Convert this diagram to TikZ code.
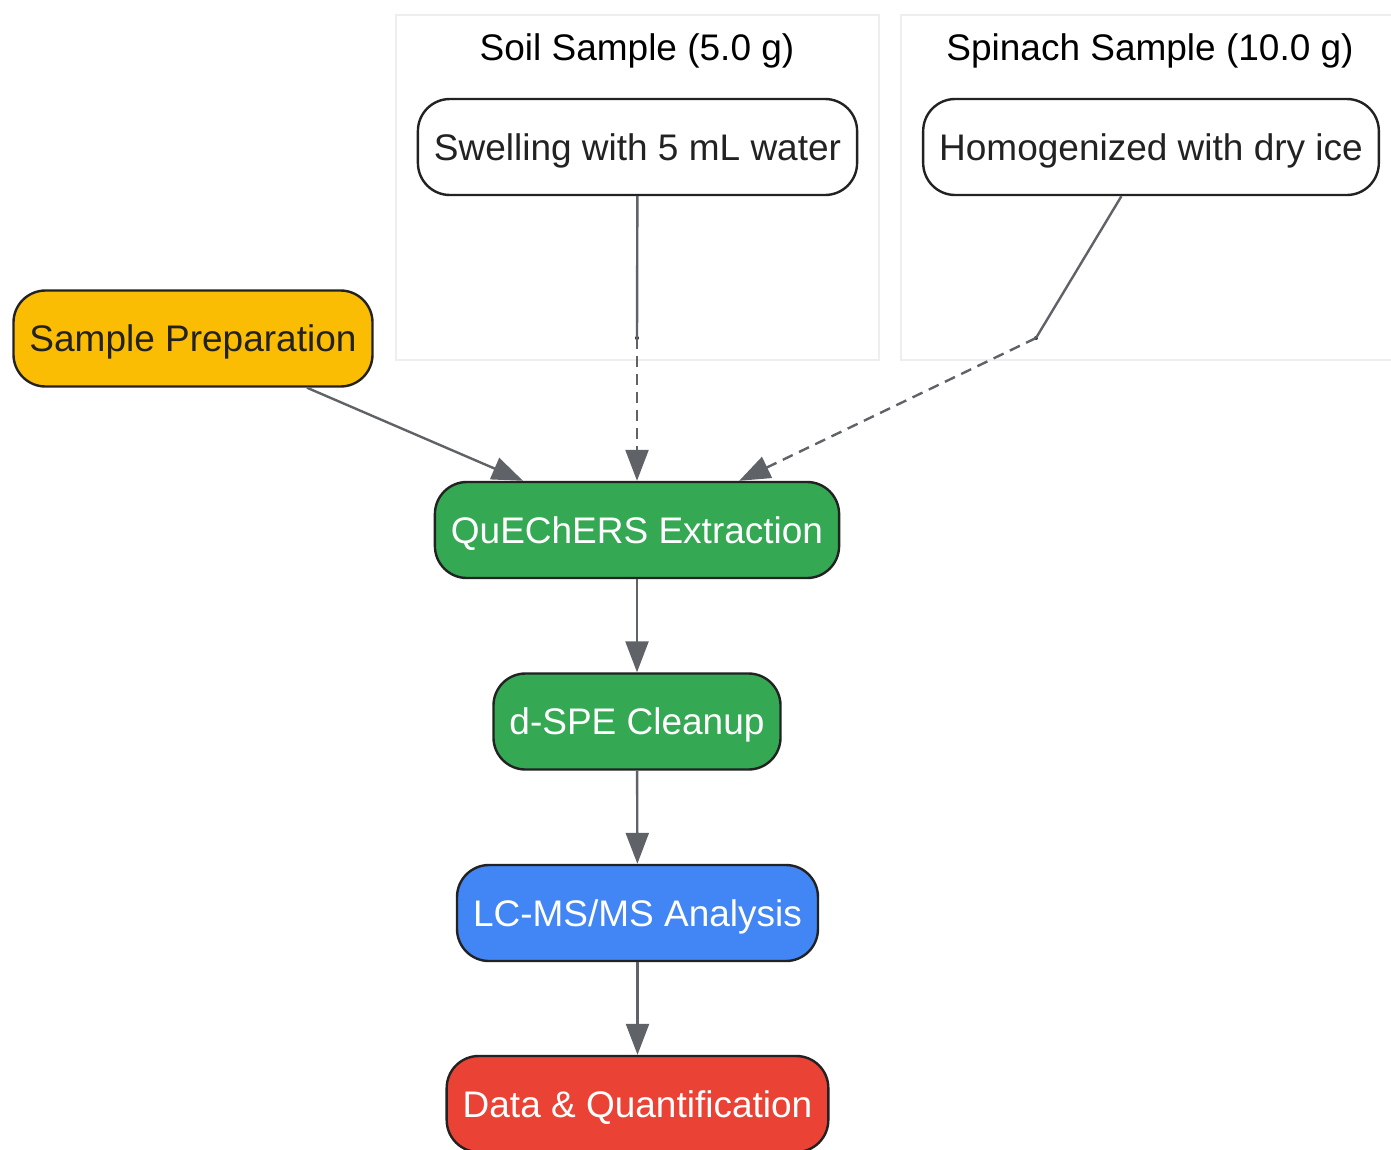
\documentclass[tikz,border=0pt]{standalone}
\usepackage{fontspec}
\setmainfont{Liberation Sans}
\usetikzlibrary{arrows.meta}

\begin{document}
\begin{tikzpicture}[x=1pt, y=-1pt]

    % Colors of the workflow stages
    \definecolor{prepcol}{RGB}{251,188,4}
    \definecolor{extcol}{RGB}{52,168,83}
    \definecolor{lccol}{RGB}{66,133,244}
    \definecolor{datacol}{RGB}{234,67,53}
    \definecolor{edgecol}{RGB}{95,99,104}
    \definecolor{boxline}{RGB}{34,34,34}
    \definecolor{clustline}{RGB}{238,238,238}

    % Common styles
    \tikzset{
        stage/.style={draw=boxline, line width=2.4pt, rounded corners=32pt,
            font=\fontsize{37}{44}\selectfont, text=white,
            text height=26.5pt, text depth=0pt,
            minimum height=96pt, inner xsep=16pt, inner ysep=0pt},
        substep/.style={stage, fill=white, text={rgb,255:red,34;green,34;blue,34}},
        clusterbox/.style={draw=clustline, line width=2pt, fill=white},
        clustertitle/.style={font=\fontsize{37}{44}\selectfont, text=black,
            text height=26.5pt, text depth=0pt, inner sep=0pt},
        joindot/.style={circle, fill=boxline, inner sep=0pt, minimum size=4pt},
        flow/.style={draw=edgecol, line width=2.4pt,
            -{Triangle[length=31pt, width=23pt]}},
        feed/.style={draw=edgecol, line width=2.4pt}
    }

    \useasboundingbox (0,0) rectangle (1391,1149);

    % ================== Soil Sample cluster ==================
    \draw[clusterbox] (396,15) rectangle (879,360);
    \node[clustertitle] (soiltitle) at (637,47.5) {Soil Sample (5.0 g)};
    \node[substep] (swell) at (637.5,147) {Swelling with 5 mL water};
    \node[joindot] (soiljoin) at (637,338) {};

    % ================= Spinach Sample cluster ================
    \draw[clusterbox] (901,15) rectangle (1400,360);
    \node[clustertitle] (spintitle) at (1150,47.5) {Spinach Sample (10.0 g)};
    \node[substep] (homog) at (1151,147) {Homogenized with dry ice};
    \node[joindot] (spinjoin) at (1036,338) {};

    % ===================== Main workflow =====================
    \node[stage, fill=prepcol, text={rgb,255:red,34;green,34;blue,34}]
        (prep) at (193,338.5) {Sample Preparation};
    \node[stage, fill=extcol] (quech) at (637,530) {QuEChERS Extraction};
    \node[stage, fill=extcol] (dspe) at (637,721.5) {d-SPE Cleanup};
    \node[stage, fill=lccol] (lcms) at (637.5,913) {LC-MS/MS Analysis};
    \node[stage, fill=datacol] (quant) at (637.5,1104) {Data \& Quantification};

    % ====================== Connectors =======================
    \draw[feed] (swell) -- (soiljoin.center);
    \draw[feed] (homog) -- (spinjoin.center);
    \draw[flow, dash pattern=on 11pt off 7pt] (soiljoin.center) -- (quech);
    \draw[flow, dash pattern=on 11pt off 7pt] (spinjoin.center) -- (quech);
    \draw[flow] (prep) -- (quech);
    \draw[flow] (quech) -- (dspe);
    \draw[flow] (dspe) -- (lcms);
    \draw[flow] (lcms) -- (quant);

\end{tikzpicture}
\end{document}
